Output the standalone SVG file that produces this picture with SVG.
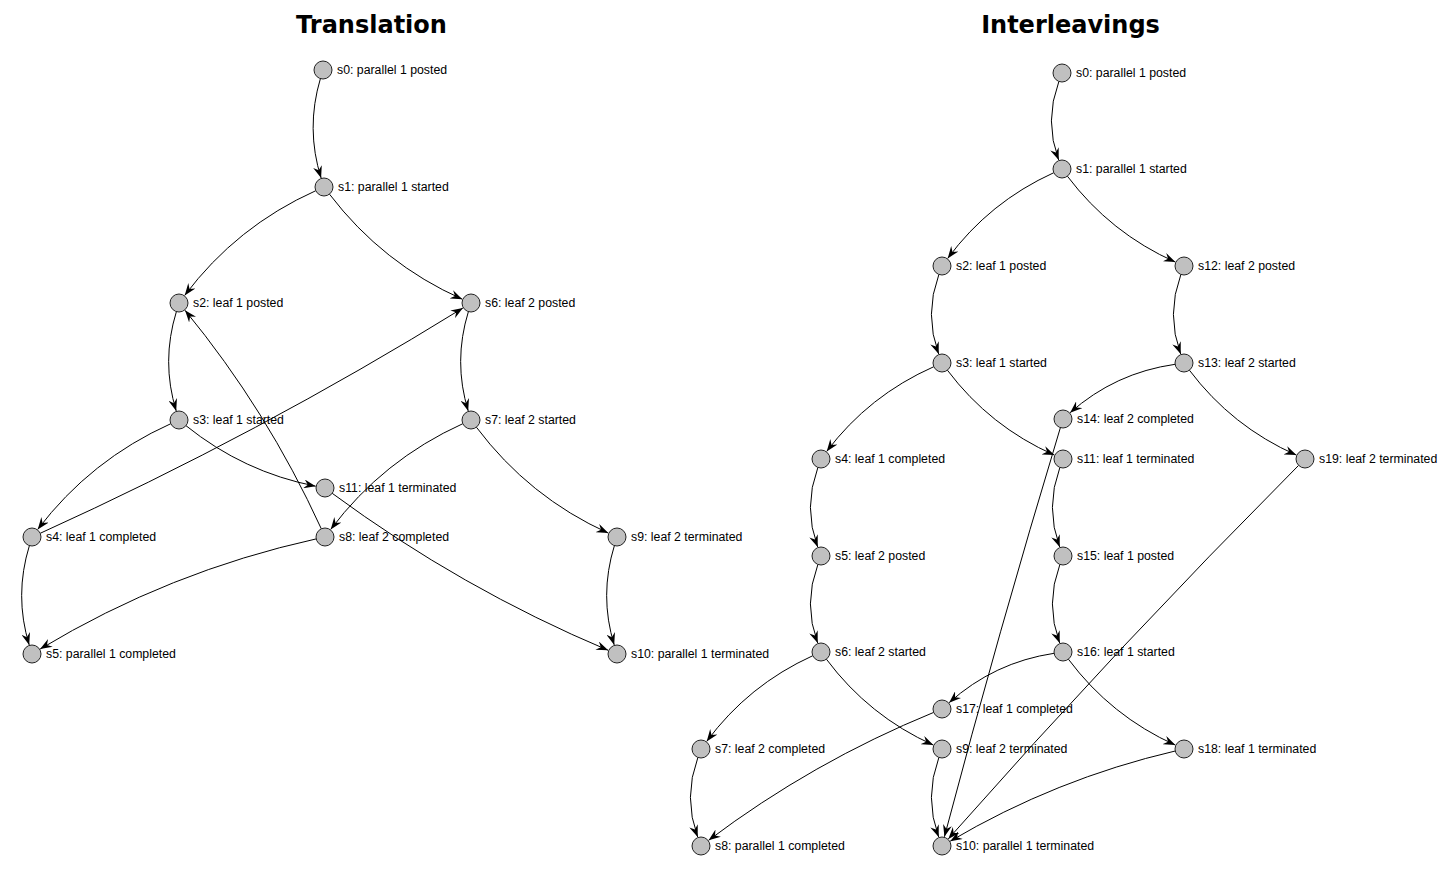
<svg xmlns="http://www.w3.org/2000/svg" width="1449" height="874" viewBox="0 0 1449 874">
<style>
.title{font-family:"DejaVu Sans",Verdana,sans-serif;font-weight:bold;font-size:24px;fill:#000;text-anchor:middle}
.lbl{font-family:"Liberation Sans",Arial,Helvetica,sans-serif;font-size:12.3px;fill:#000}
.node circle{fill:#c0c0c0;stroke:#222;stroke-width:1}
.edge{fill:none;stroke:#000;stroke-width:1;marker-end:url(#arr)}
</style>
<defs>
<marker id="arr" viewBox="0 0 12 9" refX="12" refY="4.5" markerWidth="12" markerHeight="9" markerUnits="userSpaceOnUse" orient="auto">
<path d="M0,0 L12,4.5 L0,9 L4,4.5 z" fill="#000"/>
</marker>
</defs>
<rect width="1449" height="874" fill="#fff"/>
<text class="title" x="371.5" y="33">Translation</text>
<text class="title" x="1070.5" y="33">Interleavings</text>
<g id="connectors">
<path class="edge" d="M320.4,78.6 Q305.5,128.7 321.1,178.0"/>
<path class="edge" d="M315.8,190.7 Q236.5,226.3 184.7,295.4"/>
<path class="edge" d="M329.5,194.2 Q382.6,263.8 462.3,299.2"/>
<path class="edge" d="M176.4,311.6 Q161,361.5 176.2,410.9"/>
<path class="edge" d="M468.4,311.6 Q453,361.5 468.2,410.9"/>
<path class="edge" d="M170.8,423.7 Q90.6,459.7 37.7,529.4"/>
<path class="edge" d="M186,425.7 Q243.6,472.1 315.7,486.2"/>
<path class="edge" d="M462.8,423.7 Q383,459.8 330.7,529.4"/>
<path class="edge" d="M476.4,427.2 Q529,497.2 608.3,533.1"/>
<path class="edge" d="M40.2,533.3 Q259,434.1 462.9,308"/>
<path class="edge" d="M321.3,528.8 Q267.3,410.5 185,310.3"/>
<path class="edge" d="M29.4,545.6 Q14,595.5 29.2,644.9"/>
<path class="edge" d="M316.2,538.9 Q168.9,571.4 40.1,649.1"/>
<path class="edge" d="M332.2,493.3 Q461.1,588.4 608.2,650.3"/>
<path class="edge" d="M614.4,545.6 Q599,595.5 614.2,644.9"/>
<path class="edge" d="M1058.9,81.4 Q1044,121 1058.7,160.1"/>
<path class="edge" d="M1053.8,172.7 Q989.4,201.9 947.7,258.4"/>
<path class="edge" d="M1067.4,176.2 Q1110.4,233.1 1175.4,262.1"/>
<path class="edge" d="M938.9,274.4 Q924,314.5 938.7,354.1"/>
<path class="edge" d="M1180.9,274.4 Q1166,314.5 1180.7,354.1"/>
<path class="edge" d="M933.8,366.7 Q868.9,395.4 826.7,451.4"/>
<path class="edge" d="M947.4,370.2 Q989.9,426.6 1054.4,455.1"/>
<path class="edge" d="M1175.1,364.3 Q1115.1,372.8 1070.1,412.7"/>
<path class="edge" d="M1189.4,370.2 Q1231.9,426.6 1296.4,455.1"/>
<path class="edge" d="M817.9,467.4 Q803,507.5 817.7,547.1"/>
<path class="edge" d="M1059.9,467.4 Q1045,507.5 1059.7,547.1"/>
<path class="edge" d="M817.9,564.4 Q803,604 817.7,643.1"/>
<path class="edge" d="M1059.9,564.4 Q1045,604 1059.7,643.1"/>
<path class="edge" d="M812.8,655.7 Q748.4,684.9 706.7,741.4"/>
<path class="edge" d="M826.4,659.2 Q868.9,716.1 933.4,745.1"/>
<path class="edge" d="M1054.1,653.3 Q994.1,662.3 949.1,702.7"/>
<path class="edge" d="M1068.4,659.2 Q1110.9,716.1 1175.4,745.1"/>
<path class="edge" d="M697.9,757.4 Q683,797.5 697.7,837.1"/>
<path class="edge" d="M933.7,712.4 Q812.6,761.9 708.6,840.3"/>
<path class="edge" d="M938.9,757.4 Q924,797.5 938.7,837.1"/>
<path class="edge" d="M1060.4,427.6 Q998.7,631.4 944.4,836.8"/>
<path class="edge" d="M1298.6,465.4 Q1117.7,647 948.3,838.9"/>
<path class="edge" d="M1175.2,751 Q1055.6,778.9 950.2,841.2"/>
</g>
<g id="tr-s0" class="node"><circle cx="323" cy="70" r="9"/><text class="lbl" x="337" y="74">s0: parallel 1 posted</text></g>
<g id="tr-s1" class="node"><circle cx="324" cy="187" r="9"/><text class="lbl" x="338" y="191">s1: parallel 1 started</text></g>
<g id="tr-s2" class="node"><circle cx="179" cy="303" r="9"/><text class="lbl" x="193" y="307">s2: leaf 1 posted</text></g>
<g id="tr-s6" class="node"><circle cx="471" cy="303" r="9"/><text class="lbl" x="485" y="307">s6: leaf 2 posted</text></g>
<g id="tr-s3" class="node"><circle cx="179" cy="420" r="9"/><text class="lbl" x="193" y="424">s3: leaf 1 started</text></g>
<g id="tr-s7" class="node"><circle cx="471" cy="420" r="9"/><text class="lbl" x="485" y="424">s7: leaf 2 started</text></g>
<g id="tr-s11" class="node"><circle cx="325" cy="488" r="9"/><text class="lbl" x="339" y="492">s11: leaf 1 terminated</text></g>
<g id="tr-s4" class="node"><circle cx="32" cy="537" r="9"/><text class="lbl" x="46" y="541">s4: leaf 1 completed</text></g>
<g id="tr-s8" class="node"><circle cx="325" cy="537" r="9"/><text class="lbl" x="339" y="541">s8: leaf 2 completed</text></g>
<g id="tr-s9" class="node"><circle cx="617" cy="537" r="9"/><text class="lbl" x="631" y="541">s9: leaf 2 terminated</text></g>
<g id="tr-s5" class="node"><circle cx="32" cy="654" r="9"/><text class="lbl" x="46" y="658">s5: parallel 1 completed</text></g>
<g id="tr-s10" class="node"><circle cx="617" cy="654" r="9"/><text class="lbl" x="631" y="658">s10: parallel 1 terminated</text></g>
<g id="il-s0" class="node"><circle cx="1062" cy="73" r="9"/><text class="lbl" x="1076" y="77">s0: parallel 1 posted</text></g>
<g id="il-s1" class="node"><circle cx="1062" cy="169" r="9"/><text class="lbl" x="1076" y="173">s1: parallel 1 started</text></g>
<g id="il-s2" class="node"><circle cx="942" cy="266" r="9"/><text class="lbl" x="956" y="270">s2: leaf 1 posted</text></g>
<g id="il-s12" class="node"><circle cx="1184" cy="266" r="9"/><text class="lbl" x="1198" y="270">s12: leaf 2 posted</text></g>
<g id="il-s3" class="node"><circle cx="942" cy="363" r="9"/><text class="lbl" x="956" y="367">s3: leaf 1 started</text></g>
<g id="il-s13" class="node"><circle cx="1184" cy="363" r="9"/><text class="lbl" x="1198" y="367">s13: leaf 2 started</text></g>
<g id="il-s14" class="node"><circle cx="1063" cy="419" r="9"/><text class="lbl" x="1077" y="423">s14: leaf 2 completed</text></g>
<g id="il-s4" class="node"><circle cx="821" cy="459" r="9"/><text class="lbl" x="835" y="463">s4: leaf 1 completed</text></g>
<g id="il-s11" class="node"><circle cx="1063" cy="459" r="9"/><text class="lbl" x="1077" y="463">s11: leaf 1 terminated</text></g>
<g id="il-s19" class="node"><circle cx="1305" cy="459" r="9"/><text class="lbl" x="1319" y="463">s19: leaf 2 terminated</text></g>
<g id="il-s5" class="node"><circle cx="821" cy="556" r="9"/><text class="lbl" x="835" y="560">s5: leaf 2 posted</text></g>
<g id="il-s15" class="node"><circle cx="1063" cy="556" r="9"/><text class="lbl" x="1077" y="560">s15: leaf 1 posted</text></g>
<g id="il-s6" class="node"><circle cx="821" cy="652" r="9"/><text class="lbl" x="835" y="656">s6: leaf 2 started</text></g>
<g id="il-s16" class="node"><circle cx="1063" cy="652" r="9"/><text class="lbl" x="1077" y="656">s16: leaf 1 started</text></g>
<g id="il-s17" class="node"><circle cx="942" cy="709" r="9"/><text class="lbl" x="956" y="713">s17: leaf 1 completed</text></g>
<g id="il-s7" class="node"><circle cx="701" cy="749" r="9"/><text class="lbl" x="715" y="753">s7: leaf 2 completed</text></g>
<g id="il-s9" class="node"><circle cx="942" cy="749" r="9"/><text class="lbl" x="956" y="753">s9: leaf 2 terminated</text></g>
<g id="il-s18" class="node"><circle cx="1184" cy="749" r="9"/><text class="lbl" x="1198" y="753">s18: leaf 1 terminated</text></g>
<g id="il-s8" class="node"><circle cx="701" cy="846" r="9"/><text class="lbl" x="715" y="850">s8: parallel 1 completed</text></g>
<g id="il-s10" class="node"><circle cx="942" cy="846" r="9"/><text class="lbl" x="956" y="850">s10: parallel 1 terminated</text></g>
</svg>
